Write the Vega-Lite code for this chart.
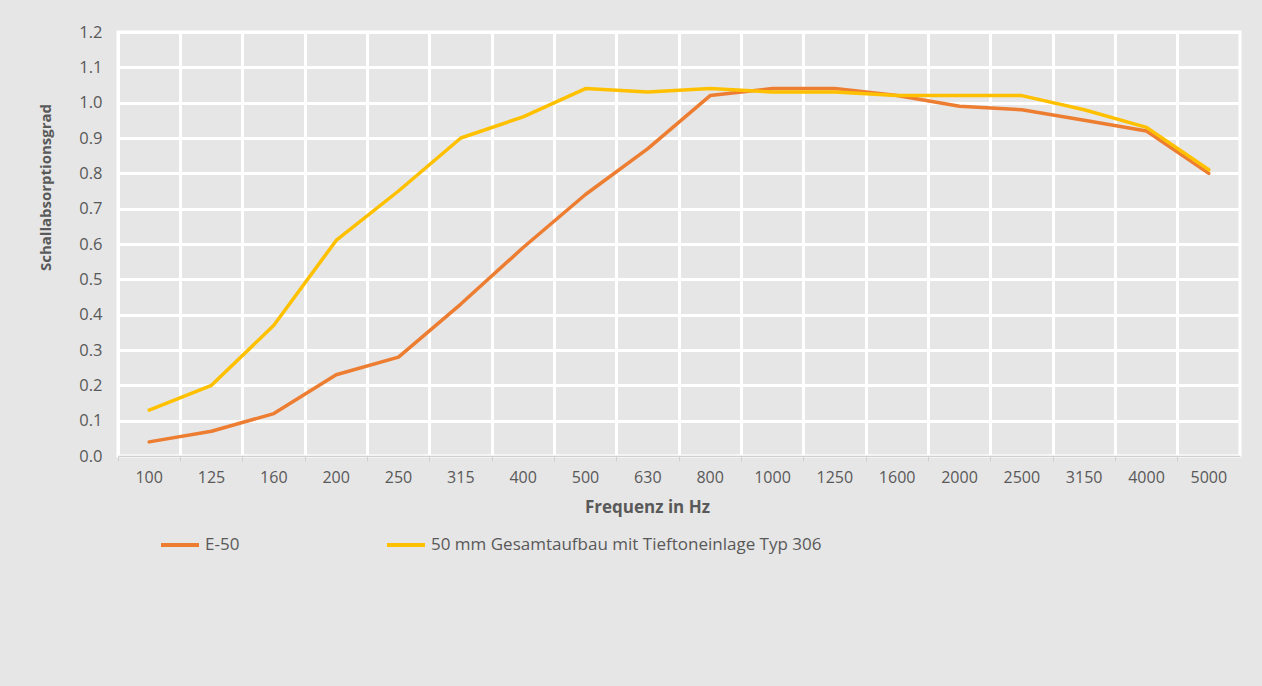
{
  "$schema": "https://vega.github.io/schema/vega-lite/v6.json",
  "width": 1122,
  "height": 424,
  "autosize": {"type": "none"},
  "padding": {"left": 118, "top": 32, "right": 22, "bottom": 230},
  "background": "#e6e6e6",
  "config": {
    "font": "Open Sans",
    "view": {"stroke": "#ffffff", "strokeWidth": 3},
    "axis": {"labelColor": "#595959", "titleColor": "#595959", "labelFontSize": 16, "titleFontSize": 17, "titleFontWeight": "bold"}
  },
  "data": {
    "values": [
      {"f": "100", "s": "E-50", "v": 0.04},
      {"f": "125", "s": "E-50", "v": 0.07},
      {"f": "160", "s": "E-50", "v": 0.12},
      {"f": "200", "s": "E-50", "v": 0.23},
      {"f": "250", "s": "E-50", "v": 0.28},
      {"f": "315", "s": "E-50", "v": 0.43},
      {"f": "400", "s": "E-50", "v": 0.59},
      {"f": "500", "s": "E-50", "v": 0.74},
      {"f": "630", "s": "E-50", "v": 0.87},
      {"f": "800", "s": "E-50", "v": 1.02},
      {"f": "1000", "s": "E-50", "v": 1.04},
      {"f": "1250", "s": "E-50", "v": 1.04},
      {"f": "1600", "s": "E-50", "v": 1.02},
      {"f": "2000", "s": "E-50", "v": 0.99},
      {"f": "2500", "s": "E-50", "v": 0.98},
      {"f": "3150", "s": "E-50", "v": 0.95},
      {"f": "4000", "s": "E-50", "v": 0.92},
      {"f": "5000", "s": "E-50", "v": 0.80},
      {"f": "100", "s": "50 mm Gesamtaufbau mit Tieftoneinlage Typ 306", "v": 0.13},
      {"f": "125", "s": "50 mm Gesamtaufbau mit Tieftoneinlage Typ 306", "v": 0.20},
      {"f": "160", "s": "50 mm Gesamtaufbau mit Tieftoneinlage Typ 306", "v": 0.37},
      {"f": "200", "s": "50 mm Gesamtaufbau mit Tieftoneinlage Typ 306", "v": 0.61},
      {"f": "250", "s": "50 mm Gesamtaufbau mit Tieftoneinlage Typ 306", "v": 0.75},
      {"f": "315", "s": "50 mm Gesamtaufbau mit Tieftoneinlage Typ 306", "v": 0.90},
      {"f": "400", "s": "50 mm Gesamtaufbau mit Tieftoneinlage Typ 306", "v": 0.96},
      {"f": "500", "s": "50 mm Gesamtaufbau mit Tieftoneinlage Typ 306", "v": 1.04},
      {"f": "630", "s": "50 mm Gesamtaufbau mit Tieftoneinlage Typ 306", "v": 1.03},
      {"f": "800", "s": "50 mm Gesamtaufbau mit Tieftoneinlage Typ 306", "v": 1.04},
      {"f": "1000", "s": "50 mm Gesamtaufbau mit Tieftoneinlage Typ 306", "v": 1.03},
      {"f": "1250", "s": "50 mm Gesamtaufbau mit Tieftoneinlage Typ 306", "v": 1.03},
      {"f": "1600", "s": "50 mm Gesamtaufbau mit Tieftoneinlage Typ 306", "v": 1.02},
      {"f": "2000", "s": "50 mm Gesamtaufbau mit Tieftoneinlage Typ 306", "v": 1.02},
      {"f": "2500", "s": "50 mm Gesamtaufbau mit Tieftoneinlage Typ 306", "v": 1.02},
      {"f": "3150", "s": "50 mm Gesamtaufbau mit Tieftoneinlage Typ 306", "v": 0.98},
      {"f": "4000", "s": "50 mm Gesamtaufbau mit Tieftoneinlage Typ 306", "v": 0.93},
      {"f": "5000", "s": "50 mm Gesamtaufbau mit Tieftoneinlage Typ 306", "v": 0.81}
    ]
  },
  "mark": {"type": "line", "strokeWidth": 3.5, "strokeCap": "round", "strokeJoin": "round"},
  "encoding": {
    "x": {
      "field": "f",
      "type": "ordinal",
      "sort": null,
      "scale": {"type": "band", "paddingInner": 0, "paddingOuter": 0},
      "axis": {
        "title": "Frequenz in Hz",
        "titleX": 529,
        "titleY": 51,
        "titleBaseline": "middle",
        "labelAngle": 0,
        "bandPosition": 0,
        "labelOffset": 0,
        "grid": true,
        "gridColor": "#ffffff",
        "gridWidth": 3,
        "gridOpacity": 1,
        "domainColor": "#d0d0d0",
        "domainWidth": 1.5,
        "tickColor": "#d0d0d0",
        "tickSize": 5,
        "labelPadding": 8
      }
    },
    "y": {
      "field": "v",
      "type": "quantitative",
      "scale": {"domain": [0, 1.2], "nice": false},
      "axis": {
        "title": "Schallabsorptionsgrad",
        "titleFontSize": 15,
        "titleX": -73,
        "titleY": 155,
        "titleAngle": -90,
        "titleAlign": "center",
        "titleBaseline": "middle",
        "values": [0, 0.1, 0.2, 0.3, 0.4, 0.5, 0.6, 0.7, 0.8, 0.9, 1.0, 1.1, 1.2],
        "format": ".1f",
        "domain": false,
        "ticks": false,
        "labelFontSize": 16.5,
        "labelPadding": 16,
        "gridColor": "#ffffff",
        "gridWidth": 3,
        "gridOpacity": 1
      }
    },
    "color": {
      "field": "s",
      "type": "nominal",
      "sort": null,
      "scale": {"domain": ["E-50", "50 mm Gesamtaufbau mit Tieftoneinlage Typ 306"], "range": ["#ED7D31", "#FFC000"]},
      "legend": {
        "title": null,
        "orient": "none",
        "legendX": 41,
        "legendY": 492,
        "direction": "horizontal",
        "symbolType": "stroke",
        "symbolSize": 1444,
        "symbolStrokeWidth": 4,
        "labelFontSize": 17,
        "labelColor": "#595959",
        "labelOffset": 4,
        "labelLimit": 0,
        "columnPadding": 139
      }
    }
  }
}
